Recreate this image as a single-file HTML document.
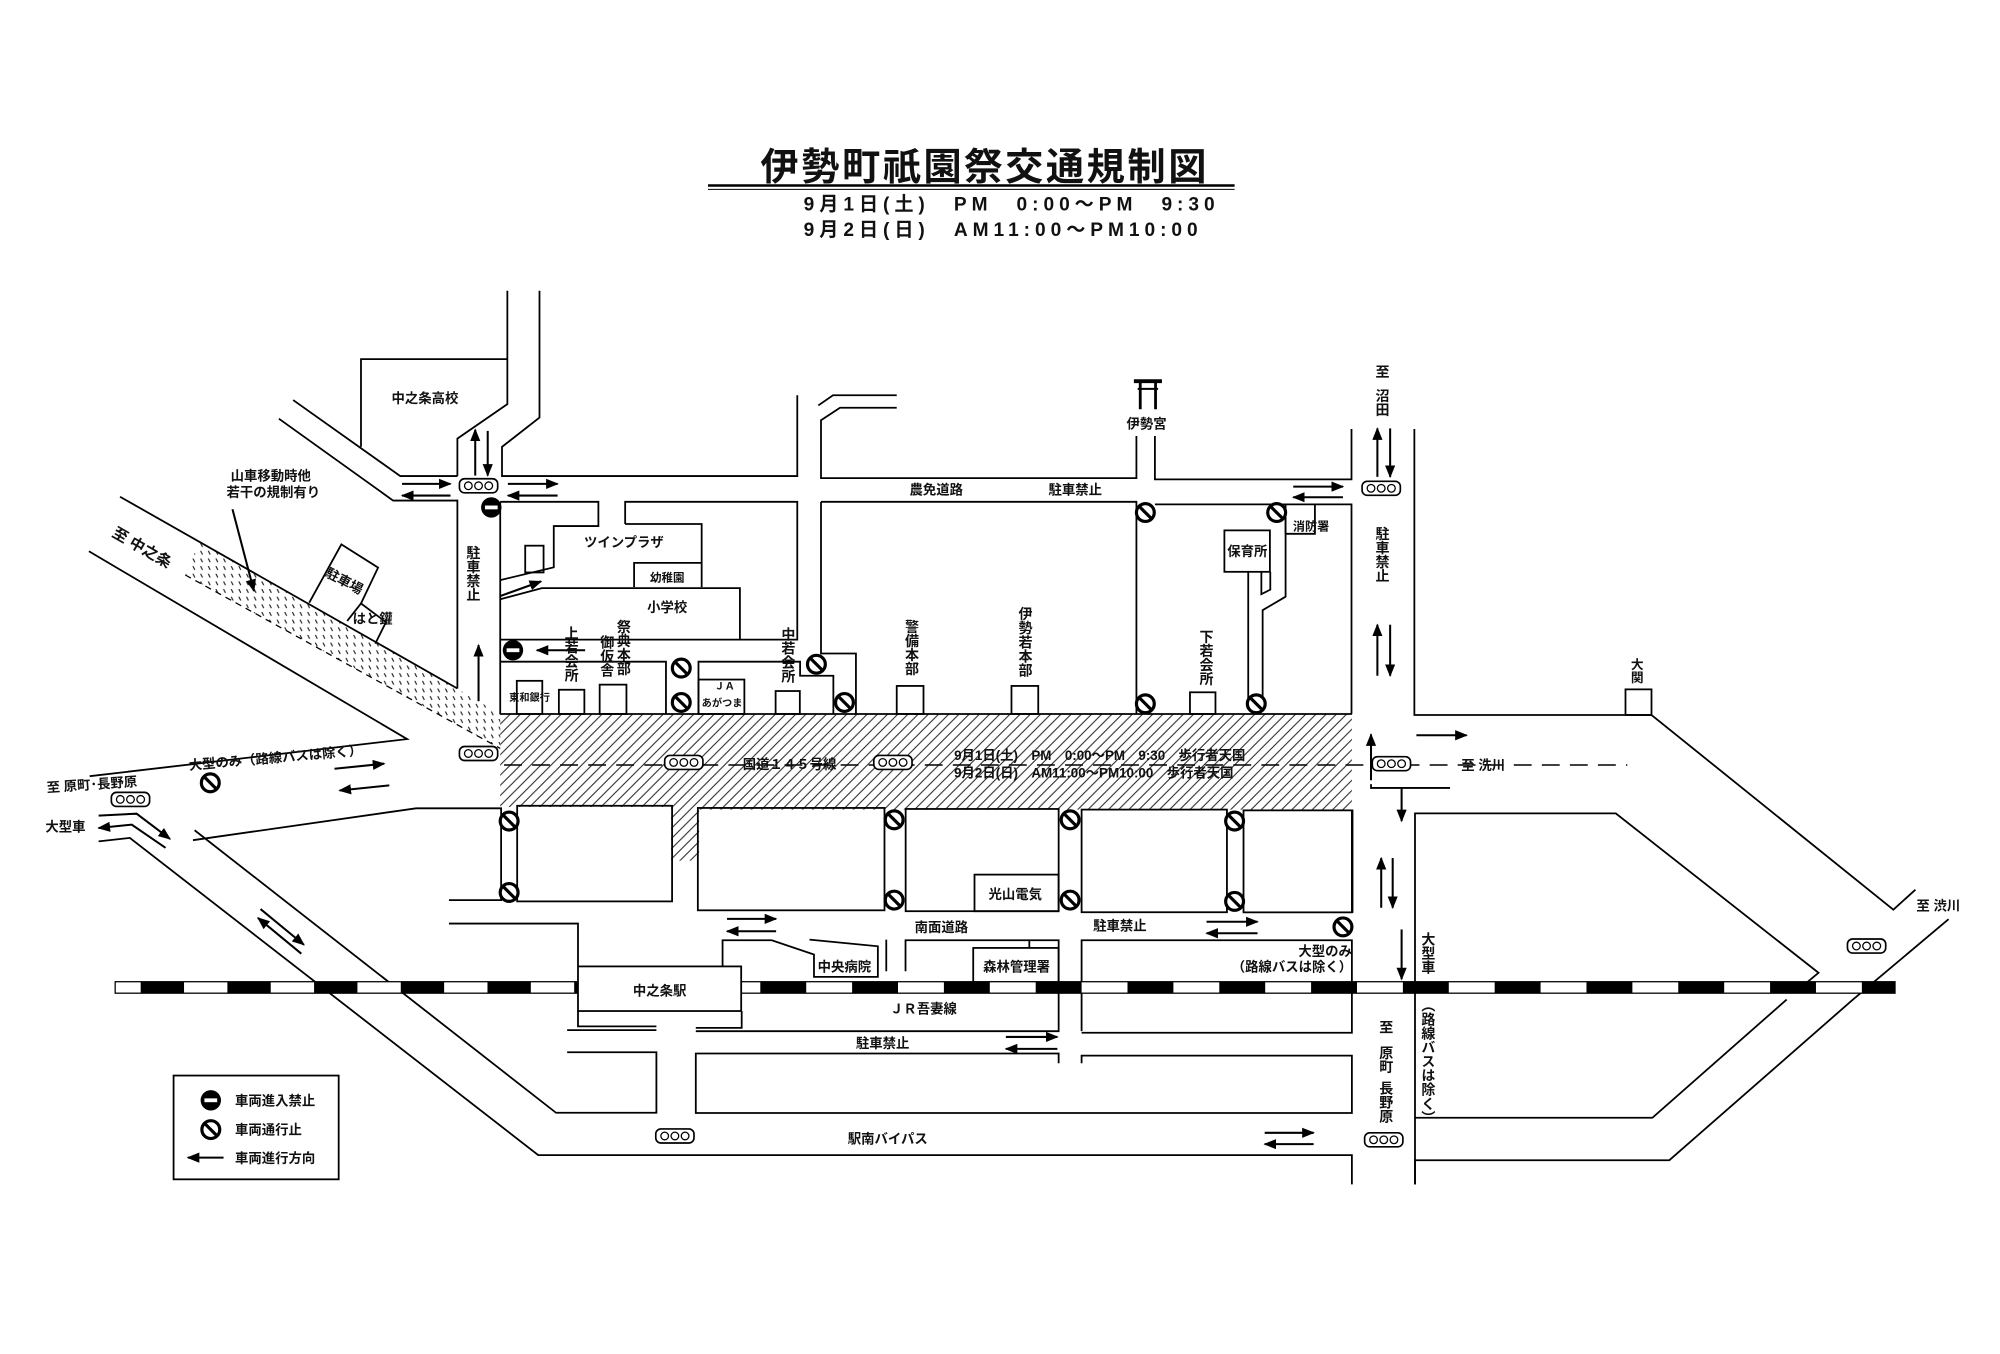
<!DOCTYPE html>
<html><head><meta charset="utf-8"><style>
html,body{margin:0;padding:0;background:#fff;}
svg{display:block;}
text{font-family:"Liberation Sans","Noto Sans CJK JP",sans-serif;font-weight:bold;fill:#111;}
.v{writing-mode:vertical-rl;}
</style></head><body>
<svg width="2000" height="1354" viewBox="0 0 1568 1062" xmlns="http://www.w3.org/2000/svg">
<defs>
<pattern id="h" patternUnits="userSpaceOnUse" width="8" height="8"><path d="M0,8 L8,0 M-2,2 L2,-2 M6,10 L10,6" stroke="#222" stroke-width="0.8"/></pattern>
<pattern id="d" patternUnits="userSpaceOnUse" width="6" height="6"><path d="M1,0 L2.5,3" stroke="#222" stroke-width="0.9"/></pattern>
<marker id="a" markerWidth="10" markerHeight="8" refX="9" refY="4" orient="auto" markerUnits="userSpaceOnUse"><path d="M0,0 L10,4 L0,8 Z" fill="#000"/></marker>
<g id="tl"><rect x="-15" y="-5.5" width="30" height="11" rx="4" fill="#fff" stroke="#000" stroke-width="1.3"/><circle cx="-8" r="3" fill="none" stroke="#000" stroke-width="1"/><circle cx="0" r="3" fill="none" stroke="#000" stroke-width="1"/><circle cx="8" r="3" fill="none" stroke="#000" stroke-width="1"/></g>
<g id="np"><circle r="7" fill="#fff" stroke="#000" stroke-width="2.5"/><path d="M-5,-5 L5,5" stroke="#000" stroke-width="2.5"/></g>
<g id="ne"><circle r="8" fill="#000"/><rect x="-5" y="-1.5" width="10" height="3" fill="#fff"/></g>
</defs>

<!-- title -->
<text x="772" y="141" font-size="30" letter-spacing="2" text-anchor="middle">伊勢町祇園祭交通規制図</text>
<path d="M555,145.5 H968" stroke="#000" stroke-width="2"/>
<path d="M555,148.5 H968" stroke="#000" stroke-width="0.8"/>
<text x="630" y="165" font-size="15" letter-spacing="3.9">9月1日(土)　PM　0:00〜PM　9:30</text>
<text x="630" y="185" font-size="15" letter-spacing="3.9">9月2日(日)　AM11:00〜PM10:00</text>

<!-- hatched areas -->
<path d="M392,560 H1060 V635 H548 V675 H526 V633 H392 Z" fill="url(#h)"/>
<path d="M156,425 L358,540 L392,560 L392,587 L145,451 Z" fill="url(#d)"/>
<path d="M145,451 L392,587" stroke="#000" stroke-width="1" stroke-dasharray="5,4"/>

<g fill="none" stroke="#000" stroke-width="1.4">
<path d="M282.8,350.5 V281.7 H397.6"/>
<path d="M229.6,313.8 L313.6,373.4 H358.4"/>
<path d="M218.4,328.4 L308,392.6 H358.4 V540"/>
<path d="M397.6,228 V317 L358.4,344 V373.4"/>
<path d="M422.8,228 V327.5 L393.4,350.5 V373.4 H625 V310"/>
<path d="M703,310 H653 L641.5,318"/>
<path d="M703,319.8 H658.5 L643.6,329.6 V375 H891 V342"/>
<path d="M905.5,342 V376 H1059.7 V336.5"/>
<path d="M392,393.6 H469 V412.6 H434 V445 L392,455"/>
<rect x="411.6" y="428" width="14.4" height="21"/>
<path d="M392,470 L424.7,461.3 H580 V501.7"/>
<path d="M490,411 V393.6 H625 V501.7 H392"/>
<path d="M490,411 H550 V460.5"/>
<path d="M497,460.5 V441.5 H550"/>
<path d="M392,393.6 V560"/>
<path d="M392,519 H522 V560"/>
<path d="M547.5,560 V519 H627.2 V530 H653.3 V560"/>
<rect x="547.5" y="533" width="36" height="27"/>
<path d="M643.6,393.6 V512.6 H671 V560"/>
<path d="M643.6,393.6 H891 V560"/>
<path d="M905.5,395.6 H1059.7 V560"/>
<rect x="405" y="534" width="20" height="26"/>
<rect x="438" y="541" width="20" height="19"/>
<rect x="470" y="537" width="21" height="23"/>
<rect x="608" y="542" width="19" height="18"/>
<rect x="703" y="538" width="21" height="22"/>
<rect x="793" y="538" width="21" height="22"/>
<rect x="933" y="543" width="20" height="17"/>
<rect x="960" y="416" width="35.7" height="32.5"/>
<path d="M1008,395.6 V418.7 H1031 V395.6"/>
<path d="M1008,405 V468 L990,478.6 V548"/>
<path d="M996,448.5 V462.5 L989,466 V448.5"/>
<path d="M978.7,448.5 V548"/>
<path d="M392,560 H1060"/>
<path d="M1109,336.5 V560.8 H1295 L1484.7,713.5 L1502,697.8"/>
<rect x="1274.6" y="540.7" width="20.4" height="20.1"/>
<path d="M1075,615 V618 H1137"/>
<path d="M1109.5,929 V638 H1267 L1426,763 L1414,773"/>
<path d="M1401,784 L1295.7,876.7 H1109.5"/>
<path d="M1528,721 L1453,784 L1309,910 H1109.5 V929"/>
<path d="M93.8,389.6 L358.4,540"/>
<path d="M69.4,432.4 L319,579.7 L70,608.8"/>
<path d="M151,659 L326,634 H392.7 V706 H351.8"/>
<path d="M77,659.9 L101.5,657.2 L421.8,906 H1060 V929"/>
<path d="M152.3,651.2 L435.8,872.8 H514.5 V825.3 H444.5"/>
<path d="M351.8,724.4 H453 V758"/>
<path d="M453,793 V805 H514.5"/>
<path d="M444.5,808 H514.5"/>
<path d="M545.4,806.2 H581.4 V793"/>
<path d="M545.4,808.8 H830 V737.5 H709.9 V761.8"/>
<path d="M566.4,757.9 V737.5 H605 L638.1,748.7 V766.2 H688.2 V742.2 L634.6,737"/>
<path d="M694.8,737 V761.8"/>
<rect x="763" y="743.5" width="67" height="26.9"/>
<path d="M807,737.5 V743.5"/>
<path d="M848,808.8 V737.5 H1060 V810 H848"/>
<path d="M830,834 V826.3 H545.4 V873 H1060 V828 H848 V834"/>
<rect x="405.3" y="632" width="121.5" height="75"/>
<rect x="547" y="633.7" width="146.4" height="80.3"/>
<rect x="710" y="634.5" width="120" height="80.2"/>
<rect x="764" y="686" width="66" height="28.7"/>
<rect x="848" y="635" width="114" height="80.5"/>
<rect x="975" y="635.6" width="85" height="80"/>
<path d="M1060.5,635 V716"/>
<rect x="135.8" y="843.6" width="129.5" height="81.4"/>
<path d="M242.2,472.7 L267.4,427 L296.2,445.2 L282.8,473.3 L302.4,488 L294,504.8"/>
<path d="M282.8,473.3 L272,487"/>
</g>

<!-- railway -->
<rect x="90" y="770" width="363" height="9" fill="#fff" stroke="#000" stroke-width="1"/>
<rect x="581" y="770" width="905" height="9" fill="#fff" stroke="#000" stroke-width="1"/>
<path d="M110,774.5 H453" stroke="#000" stroke-width="9" stroke-dasharray="34,34"/>
<path d="M596,774.5 H1486" stroke="#000" stroke-width="9" stroke-dasharray="36,36"/>
<rect x="453" y="758" width="128" height="35" fill="#fff" stroke="#000" stroke-width="1.4"/>

<path d="M395,600 H1276" stroke="#000" stroke-width="1.2" stroke-dasharray="14,8"/>

<!-- arrows -->
<g stroke="#000" stroke-width="1.6" fill="none" marker-end="url(#a)">
<path d="M372.4,373 V337"/><path d="M382.2,338 V373"/>
<path d="M315,379.5 H353"/><path d="M353,388.7 H315"/>
<path d="M398,379.5 H437"/><path d="M437,388.7 H398"/>
<path d="M375,550 V506"/>
<path d="M458.6,510 H420.7"/>
<path d="M392,467.5 L424,456"/>
<path d="M1014,381.7 H1053"/><path d="M1053,390 H1014"/>
<path d="M1080,374 V336"/><path d="M1090,336 V374"/>
<path d="M1080,530 V490"/><path d="M1090,490 V530"/>
<path d="M1075,612 V576"/>
<path d="M1099,618 V644"/>
<path d="M1110.6,576.7 H1150"/>
<path d="M1083,712 V673"/><path d="M1092,673 V712"/>
<path d="M1099,729 V768"/>
<path d="M569.9,720.7 H608.4"/><path d="M608.4,730.4 H569.9"/>
<path d="M946,723 H986"/><path d="M986,732 H946"/>
<path d="M788.6,813.3 H829"/><path d="M829,822.7 H788.6"/>
<path d="M991.6,888.5 H1030"/><path d="M1030,897.4 H991.6"/>
<path d="M262,603 L301,599"/><path d="M305,616 L266,620"/>
<path d="M77,639.7 L106.8,638.2 L133,658"/>
<path d="M129.5,665 L103,646.8 L77,649.4"/>
<path d="M175,908 H147"/>
<path d="M182,399.4 L198.8,463.5"/>
<path d="M204,713 L238,741"/>
<path d="M236,748 L202,720"/>
</g>

<use href="#tl" x="375" y="381"/>
<use href="#tl" x="1083" y="383"/>
<use href="#tl" x="375" y="591"/>
<use href="#tl" x="536" y="598"/>
<use href="#tl" x="700" y="598"/>
<use href="#tl" x="1091" y="599"/>
<use href="#tl" x="102" y="627"/>
<use href="#tl" x="1463.7" y="742"/>
<use href="#tl" x="1085" y="894"/>
<use href="#tl" x="529" y="891"/>

<use href="#ne" x="385" y="398"/>
<use href="#ne" x="402" y="510"/>
<use href="#ne" x="165" y="863"/>

<use href="#np" x="534" y="524"/><use href="#np" x="534" y="551"/>
<use href="#np" x="640" y="521"/><use href="#np" x="662" y="551"/>
<use href="#np" x="898" y="402"/><use href="#np" x="898" y="552"/>
<use href="#np" x="1001" y="402"/><use href="#np" x="985" y="552"/>
<use href="#np" x="399" y="644"/><use href="#np" x="399" y="700"/>
<use href="#np" x="701" y="643"/><use href="#np" x="701" y="706"/>
<use href="#np" x="839" y="643"/><use href="#np" x="839" y="706"/>
<use href="#np" x="968" y="644"/><use href="#np" x="968" y="707"/>
<use href="#np" x="1053" y="727"/>
<use href="#np" x="164.6" y="614"/>
<use href="#np" x="165" y="886"/>

<g stroke="#000" fill="none">
<path d="M889,299 H911" stroke-width="3"/><path d="M892,305 H908" stroke-width="1.5"/>
<path d="M894,299 V321 M906,299 V321" stroke-width="2.2"/>
</g>

<g font-size="10.5">
<text x="333" y="316" text-anchor="middle">中之条高校</text>
<text x="212" y="377" text-anchor="middle">山車移動時他</text>
<text x="214" y="390" text-anchor="middle">若干の規制有り</text>
<text x="268" y="459" text-anchor="middle" transform="rotate(28 268 459)">駐車場</text>
<text x="292" y="489" text-anchor="middle">はと鑵</text>
<text x="489" y="429" text-anchor="middle">ツインプラザ</text>
<text x="523" y="456" text-anchor="middle" font-size="9">幼稚園</text>
<text x="523" y="480" text-anchor="middle">小学校</text>
<text x="415" y="550" text-anchor="middle" font-size="8">東和銀行</text>
<text x="560" y="541" font-size="8">ＪＡ</text>
<text x="566" y="554" text-anchor="middle" font-size="8">あがつま</text>
<text x="734" y="388" text-anchor="middle">農免道路</text>
<text x="843" y="388" text-anchor="middle">駐車禁止</text>
<text x="899" y="336" text-anchor="middle">伊勢宮</text>
<text x="978" y="436" text-anchor="middle">保育所</text>
<text x="1028" y="416" text-anchor="middle" font-size="9.5">消防署</text>
<text x="619" y="603" text-anchor="middle">国道１４５号線</text>
<text x="748" y="596" font-size="10.5">9月1日(土)　PM　0:00〜PM　9:30　歩行者天国</text>
<text x="748" y="610" font-size="10.5">9月2日(日)　AM11:00〜PM10:00　歩行者天国</text>
<text x="1163" y="604" text-anchor="middle">至 洗川</text>
<text x="1520" y="714" text-anchor="middle">至 渋川</text>
<text x="738" y="731" text-anchor="middle">南面道路</text>
<text x="878" y="730" text-anchor="middle">駐車禁止</text>
<text x="796" y="705" text-anchor="middle">光山電気</text>
<text x="662" y="762" text-anchor="middle">中央病院</text>
<text x="797" y="762" text-anchor="middle">森林管理署</text>
<text x="1060" y="750" text-anchor="end">大型のみ</text>
<text x="1013" y="762" text-anchor="middle">（路線バスは除く）</text>
<text x="517" y="781" text-anchor="middle">中之条駅</text>
<text x="724" y="795" text-anchor="middle">ＪＲ吾妻線</text>
<text x="692" y="822" text-anchor="middle">駐車禁止</text>
<text x="696" y="897" text-anchor="middle">駅南バイパス</text>
<text x="51" y="652" text-anchor="middle">大型車</text>
<text x="72" y="619" text-anchor="middle" transform="rotate(-4 72 619)">至 原町･長野原</text>
<text x="216" y="598" text-anchor="middle" transform="rotate(-5 216 598)">大型のみ（路線バスは除く）</text>
<text x="109" y="433" text-anchor="middle" font-size="12" transform="rotate(30 109 433)">至 中之条</text>
<text x="184" y="867">車両進入禁止</text>
<text x="184" y="890">車両通行止</text>
<text x="184" y="912">車両進行方向</text>
</g>
<g font-size="11">
<text class="v" x="371" y="428">駐車禁止</text>
<text class="v" x="448" y="491">上若会所</text>
<text class="v" x="489" y="486">祭典本部</text>
<text class="v" x="476" y="498">御仮舎</text>
<text class="v" x="618" y="492">中若会所</text>
<text class="v" x="715" y="486">警備本部</text>
<text class="v" x="804" y="476">伊勢若本部</text>
<text class="v" x="946" y="494">下若会所</text>
<text class="v" x="1084" y="286">至</text>
<text class="v" x="1084" y="305">沼田</text>
<text class="v" x="1084" y="413">駐車禁止</text>
<text class="v" x="1283" y="516" font-size="10">大関</text>
<text class="v" x="1120" y="731">大型車</text>
<text class="v" x="1120" y="783">（路線バスは除く）</text>
<text class="v" x="1087" y="800">至</text>
<text class="v" x="1087" y="820">原町</text>
<text class="v" x="1087" y="848">長野原</text>
</g>
</svg>
</body></html>
